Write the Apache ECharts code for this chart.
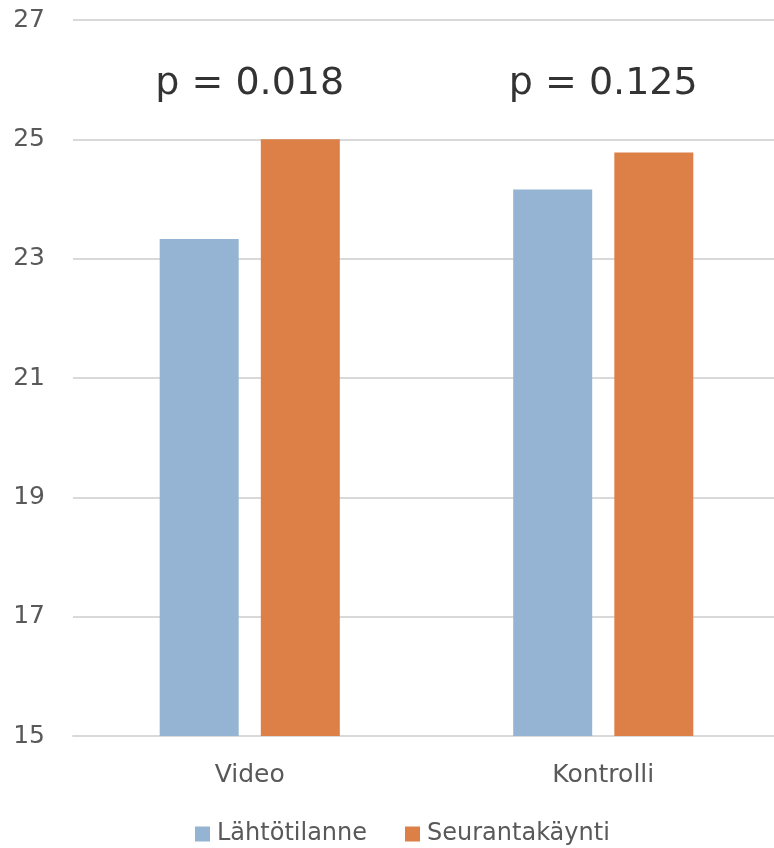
<!DOCTYPE html>
<html>
<head>
<meta charset="utf-8">
<style>
  html, body { margin: 0; padding: 0; background: #fff; }
  #chart { width: 774px; height: 848px; }
</style>
<script src="https://cdn.jsdelivr.net/npm/echarts@6/dist/echarts.min.js"></script>
</head>
<body>
<div id="chart"></div>
<script>
// Groups and series values
const categories = ['Video', 'Kontrolli'];
const seriesNames = ['Lähtötilanne', 'Seurantakäynti'];
const baseline = [23.33, 24.16];
const followUp = [25.0, 24.78];
// Significance labels for each group, placed above the bars
const pLabels = ['p = 0.018', 'p = 0.125'];
const pLabelLevel = [25.93, 25.93];
const yTicks = { min: 15, max: 27, interval: 2 };

const FONT = 'DejaVu Sans';
const TEXT = '#595959';

const chart = echarts.init(document.getElementById('chart'));
chart.setOption({
  animation: false,
  textStyle: { fontFamily: FONT },
  grid: { left: 73, top: 20, right: -6, bottom: 112, containLabel: false, outerBoundsMode: 'none' },
  legend: {
    data: seriesNames,
    top: 822,
    left: 195,
    padding: 0,
    itemWidth: 15,
    itemHeight: 15,
    itemGap: 38,
    icon: 'rect',
    textStyle: { fontFamily: FONT, fontSize: 24, color: TEXT, padding: [0, 0, 0, 2] }
  },
  xAxis: {
    type: 'category',
    data: categories,
    axisTick: { show: false },
    axisLine: { lineStyle: { color: '#D9D9D9', width: 2 } },
    axisLabel: { fontFamily: FONT, fontSize: 25, color: TEXT, margin: 27 }
  },
  yAxis: {
    type: 'value',
    min: yTicks.min,
    max: yTicks.max,
    interval: yTicks.interval,
    axisLine: { show: false },
    axisTick: { show: false },
    splitLine: { lineStyle: { color: '#D9D9D9', width: 2 } },
    axisLabel: { fontFamily: FONT, fontSize: 25, color: TEXT, margin: 28 }
  },
  series: [
    {
      name: seriesNames[0],
      type: 'bar',
      data: baseline,
      barWidth: 79,
      barGap: '28%',
      itemStyle: { color: '#95B3D2' }
    },
    {
      name: seriesNames[1],
      type: 'bar',
      data: followUp,
      barWidth: 79,
      barGap: '28%',
      itemStyle: { color: '#DD8047' }
    },
    {
      name: 'p',
      type: 'scatter',
      data: pLabelLevel,
      symbolSize: 0,
      silent: true,
      label: {
        show: true,
        position: 'inside',
        formatter: (p) => pLabels[p.dataIndex],
        fontFamily: FONT,
        fontSize: 38,
        color: '#000'
      }
    }
  ]
});
</script>
</body>
</html>
